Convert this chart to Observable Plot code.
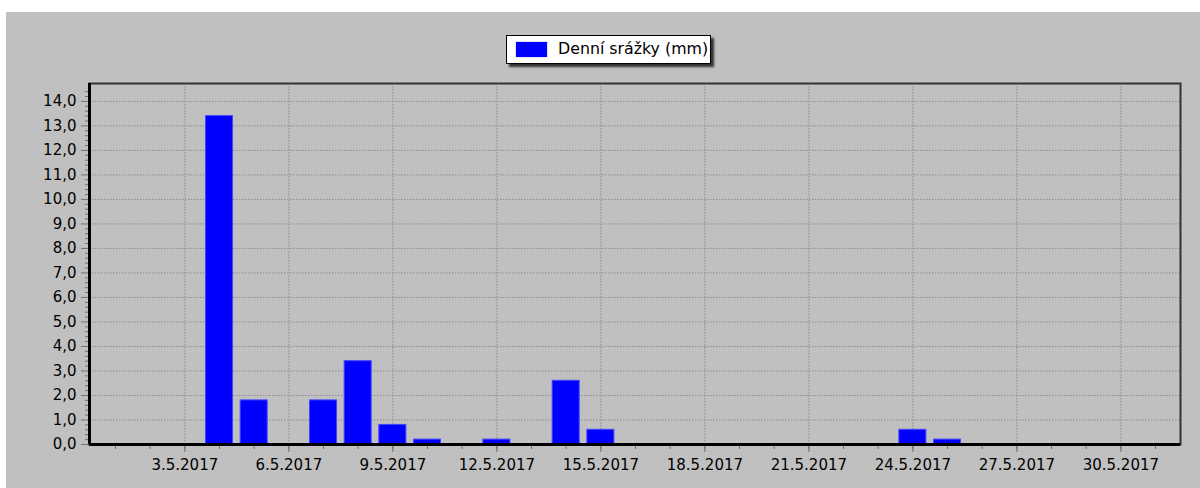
<!DOCTYPE html>
<html><head><meta charset="utf-8">
<script src="https://cdn.jsdelivr.net/npm/d3@7"></script>
<script src="https://cdn.jsdelivr.net/npm/@observablehq/plot@0.6"></script>
<style>
html,body{margin:0;padding:0;background:#fff;}
#wrap{position:absolute;left:6px;top:12px;width:1194px;height:476px;background:#c0c0c0;font-family:"DejaVu Sans",sans-serif;overflow:hidden;}
#legend{position:relative;height:58px;}
#legend .box{position:absolute;left:500px;top:23px;width:203px;height:27px;background:#fff;border:1px solid #000;box-shadow:3px 3px 2px #333;}
#legend .sw{position:absolute;left:9px;top:6px;width:31px;height:15px;background:#0000ff;box-shadow:0 0 1px #4a4aff;}
#legend .lab{position:absolute;left:51px;top:4px;font-size:15.8px;line-height:18px;color:#000;white-space:nowrap;}
#chart svg{display:block;}
</style>
</head><body>
<div id="wrap">
  <div id="legend"><div class="box"><div class="sw"></div><div class="lab" id="legendLabel"></div></div></div>
  <div id="chart"></div>
</div>
<script>
const seriesName = "Denní srážky (mm)";
const days = [1,2,3,4,5,6,7,8,9,10,11,12,13,14,15,16,17,18,19,20,21,22,23,24,25,26,27,28,29,30,31];
const rain = [0,0,0,13.4,1.8,0,1.8,3.4,0.8,0.2,0,0.2,0,2.6,0.6,0,0,0,0,0,0,0,0,0.6,0.2,0,0,0,0,0,0];
const xTickDays = [3,6,9,12,15,18,21,24,27,30];
const xTickLabels = ["3.5.2017","6.5.2017","9.5.2017","12.5.2017","15.5.2017","18.5.2017","21.5.2017","24.5.2017","27.5.2017","30.5.2017"];
const yTicks = [0,1,2,3,4,5,6,7,8,9,10,11,12,13,14];
const yTickLabels = ["0,0","1,0","2,0","3,0","4,0","5,0","6,0","7,0","8,0","9,0","10,0","11,0","12,0","13,0","14,0"];
const xDomain = [0.25, 31.72];
const yDomain = [0, 14.73];

document.getElementById("legendLabel").textContent = seriesName;

const data = days.map((d, i) => ({day: d, mm: rain[i]})).filter(d => d.mm > 0);
const yMinor = d3.range(0, 73).map(i => i * 0.2).filter(v => Math.abs(v - Math.round(v)) > 1e-6);
const grid = {stroke: "#8c8c8c", strokeOpacity: 1, strokeDasharray: "1.5,1.5", strokeWidth: 1};

const chart = Plot.plot({
  width: 1194, height: 418,
  marginTop: 13, marginBottom: 44, marginLeft: 83, marginRight: 20,
  style: {background: "transparent", fontFamily: "DejaVu Sans", fontSize: "15px", color: "#000"},
  x: {type: "linear", domain: xDomain, label: null},
  y: {domain: yDomain, label: null},
  marks: [
    Plot.gridY(yTicks.slice(1), grid),
    Plot.gridX(xTickDays, grid),
    Plot.rectY(data, {x1: d => d.day - 0.39, x2: d => d.day + 0.39, y: "mm", fill: "#0000ff", stroke: "#4646ff", strokeWidth: 1}),
    Plot.axisY(yMinor, {tickSize: 4, tickFormat: () => "", stroke: "#707070", label: null}),
    Plot.axisY(yTicks, {tickSize: 8, tickPadding: 5, stroke: "#707070", fill: "#000", label: null, tickFormat: v => yTickLabels[yTicks.indexOf(v)]}),
    Plot.axisX(days, {tickSize: 5, tickFormat: () => "", stroke: "#707070", label: null}),
    Plot.axisX(xTickDays, {tickSize: 8, tickPadding: 7, stroke: "#707070", fill: "#000", label: null, tickFormat: v => xTickLabels[xTickDays.indexOf(v)]}),
    Plot.frame({stroke: "#333", strokeWidth: 2}),
    Plot.ruleX([xDomain[0]], {stroke: "#000", strokeWidth: 3}),
    Plot.ruleY([0], {stroke: "#000", strokeWidth: 3})
  ]
});
document.getElementById("chart").appendChild(chart);
</script>
</body></html>
